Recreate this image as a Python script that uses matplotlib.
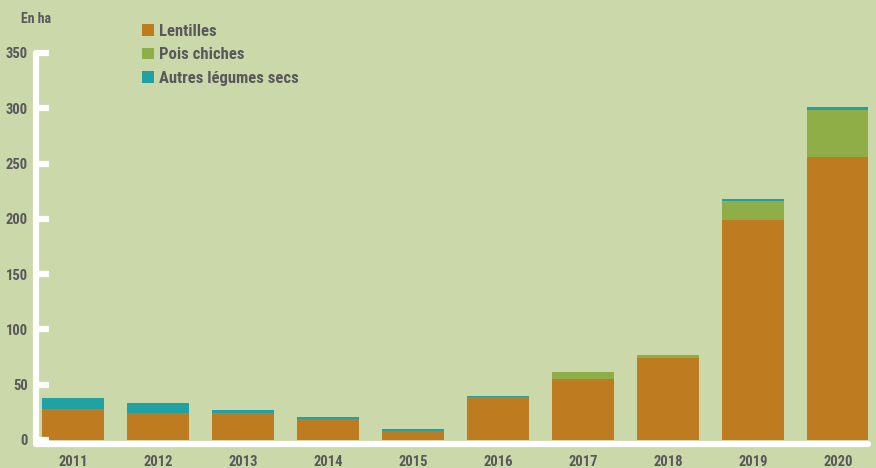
import numpy as np
from matplotlib import pyplot as plt

years = ['2011', '2012', '2013', '2014', '2015', '2016', '2017', '2018', '2019', '2020']
lentilles = [28, 24, 24.5, 19, 8, 39, 55.5, 74.5, 199, 255.5]
pois_chiches = [0, 0, 0, 0, 0, 0, 6.3, 2.7, 17.5, 42.5]
autres = [10, 9.5, 2.7, 2, 2, 1, 0, 0, 1.5, 3.5]
labels = ['Lentilles', 'Pois chiches', 'Autres légumes secs']
colors = ['#BE7B1F', '#90AE48', '#20A2A4']
bg = '#CBD8A9'
txt = '#58595B'

plt.rcParams['font.family'] = ['Liberation Sans Narrow', 'Roboto Condensed',
                               'DejaVu Sans Condensed', 'Roboto', 'DejaVu Sans']
plt.rcParams['font.weight'] = 'bold'

W, H = 876, 468
fig = plt.figure(figsize=(W / 100, H / 100), dpi=100, facecolor=bg)
ax = fig.add_axes([36 / W, (H - 443.5) / H, 832 / W, (443.5 - 53) / H])
ax.set_facecolor(bg)

x = np.arange(len(years))
l = np.array(lentilles)
p = np.array(pois_chiches)
a = np.array(autres)
b1 = ax.bar(x, l, width=0.73, color=colors[0], label=labels[0])
b2 = ax.bar(x, p, width=0.73, bottom=l, color=colors[1], label=labels[1])
b3 = ax.bar(x, a, width=0.73, bottom=l + p, color=colors[2], label=labels[2])

ax.set_xlim(-0.435, 9.353)
ax.set_ylim(-3.2, 350)
ax.set_yticks([0, 50, 100, 150, 200, 250, 300, 350])
ax.set_xticks(x)
ax.set_xticklabels(years)

for s in ['top', 'right']:
    ax.spines[s].set_visible(False)
for s in ['left', 'bottom']:
    ax.spines[s].set_color('white')
    ax.spines[s].set_linewidth(4.5)
    ax.spines[s].set_capstyle('round')
ax.spines['left'].set_bounds(-3.2, 350)

ax.tick_params(axis='y', direction='in', length=9, width=4.5, color='white',
               labelsize=10.5, labelcolor=txt, pad=6)
ax.tick_params(axis='x', length=0, labelsize=10.5, labelcolor=txt, pad=8)
for t in ax.get_yticklabels() + ax.get_xticklabels():
    t.set_fontweight('bold')

fig.text(21 / W, 1 - 19 / H, 'En ha', fontsize=10, fontweight='bold', color=txt,
         va='center', ha='left')

leg = fig.legend(handles=[b1, b2, b3], loc='upper left', bbox_to_anchor=(142 / W, 1 - 24 / H),
                 frameon=False, fontsize=12, handlelength=0.72, handleheight=0.72,
                 handletextpad=0.3, labelspacing=0.5, borderaxespad=0, borderpad=0)
for t in leg.get_texts():
    t.set_color(txt)
    t.set_fontweight('bold')

fig.savefig('out.png', dpi=100, facecolor=bg)
